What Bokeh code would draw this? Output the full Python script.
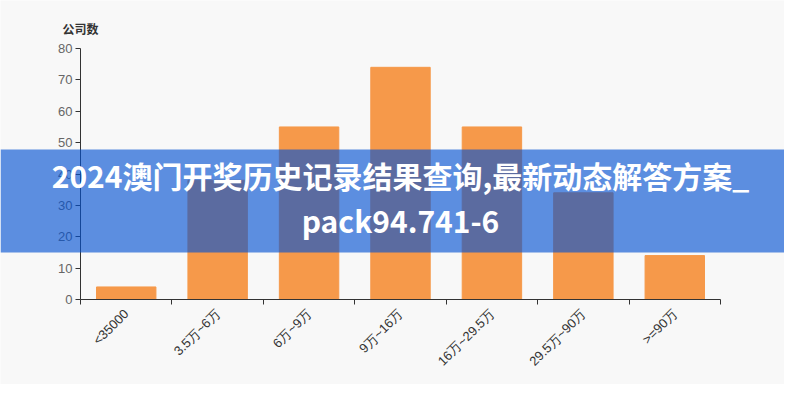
import math
from bokeh.plotting import figure
from bokeh.models import Range1d, FixedTicker, Label, BoxAnnotation, ColumnDataSource
from bokeh.embed import file_html
from bokeh.resources import INLINE

categories = ["<35000", "3.5万~6万", "6万~9万", "9万~16万", "16万~29.5万", "29.5万~90万", ">=90万"]
values = [4, 38, 55, 74, 55, 34, 14]
y_ticks = [0, 10, 20, 30, 40, 50, 60, 70, 80]
y_title = "公司数"
banner_lines = ["2024澳门开奖历史记录结果查询,最新动态解答方案_", "pack94.741-6"]

BG = "#f8f8f8"
ORANGE = "#f6994a"
BANNER = "#0351d1"

W, H = 784, 384
# where the plotting area sits inside the picture (pixels)
PL, PR, PT, PB = 80, 720, 48, 299
n = len(categories)
ymax = 80
sx = (PR - PL) / n
sy = (PB - PT) / ymax

xs = [i + 0.5 for i in range(n)]
src = ColumnDataSource(dict(x=xs, top=values))

p = figure(width=W, height=H, output_backend="svg", toolbar_location=None,
           x_range=Range1d(-PL / sx, n + (W - PR) / sx),
           y_range=Range1d(-(H - PB) / sy, ymax + PT / sy),
           min_border=0, background_fill_color=BG, border_fill_color=BG)
p.outline_line_color = None
p.xgrid.visible = False
p.ygrid.visible = False

p.vbar(x="x", top="top", width=0.65, source=src, color=ORANGE)

# axes, pinned inside the frame
p.yaxis.fixed_location = 0
p.yaxis.bounds = (0, ymax)
p.yaxis.ticker = FixedTicker(ticks=y_ticks)
p.yaxis.axis_line_color = "#333333"
p.yaxis.major_tick_line_color = "#333333"
p.yaxis.major_tick_out = 5
p.yaxis.major_tick_in = 0
p.yaxis.minor_tick_line_color = None
p.yaxis.major_label_text_color = "#666666"
p.yaxis.major_label_text_font = "Liberation Sans"
p.yaxis.major_label_text_font_size = "13px"
p.yaxis.major_label_standoff = 3

p.xaxis.fixed_location = 0
p.xaxis.bounds = (0, n)
p.xaxis.ticker = FixedTicker(ticks=xs, minor_ticks=list(range(n + 1)))
p.xaxis.major_label_overrides = {x: c for x, c in zip(xs, categories)}
p.xaxis.major_tick_line_color = None
p.xaxis.minor_tick_line_color = "#333333"
p.xaxis.minor_tick_out = 5
p.xaxis.minor_tick_in = 0
p.xaxis.axis_line_color = "#333333"
p.xaxis.major_label_orientation = math.pi / 4
p.xaxis.major_label_text_color = "#333333"
p.xaxis.major_label_text_font = "Liberation Sans"
p.xaxis.major_label_text_font_size = "13px"
p.xaxis.major_label_standoff = 6

title = Label(x=-18 / sx, y=ymax + 20.5 / sy, text=y_title, text_align="left", text_baseline="middle",
              text_font="Noto Sans CJK SC", text_font_size="12px", text_font_style="bold",
              text_color="#333333")
p.add_layout(title)

# translucent banner across the whole picture
band = BoxAnnotation(top=47.8, bottom=15.0, fill_color=BANNER, fill_alpha=0.64, line_color=None)
p.add_layout(band)

for txt, yy in zip(banner_lines, [39.7, 25.2]):
    lab = Label(x=n / 2, y=yy, text=txt, text_align="center", text_baseline="middle",
                text_color="white", text_font="Noto Sans CJK SC", text_font_style="bold",
                text_font_size="30px")
    p.add_layout(lab)

open("out.html", "w").write(file_html(p, INLINE))
